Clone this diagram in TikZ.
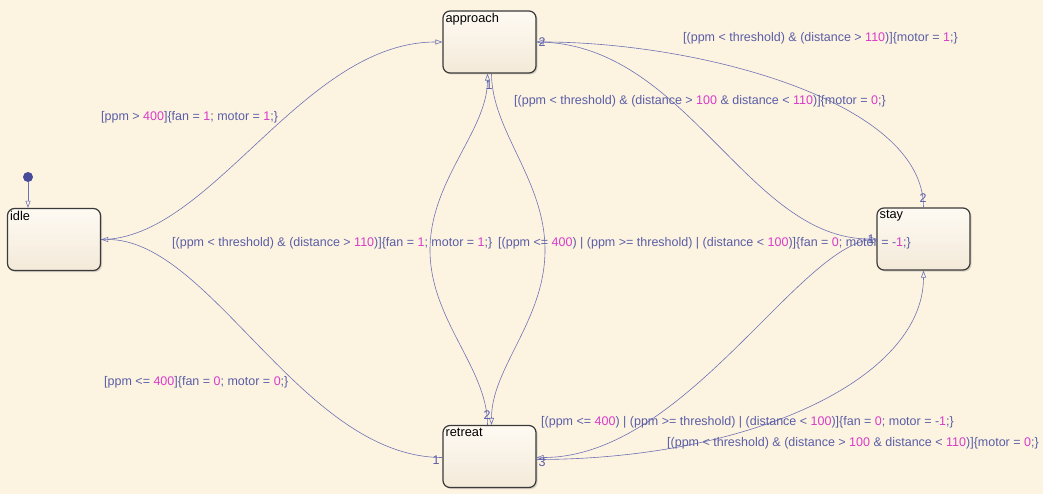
\documentclass[tikz,border=0pt]{standalone}
\usepackage{fontspec}
\setmainfont{Liberation Sans}
\usetikzlibrary{arrows.meta,shadows}

\definecolor{bgcol}{HTML}{FDF3E1}
\definecolor{linecol}{HTML}{6E72B4}
\definecolor{txtcol}{HTML}{5A5EA6}
\definecolor{numcol}{HTML}{D93BC8}
\definecolor{boxcol}{HTML}{3A3A3A}
\definecolor{dotcol}{HTML}{474B9A}

\newcommand{\nv}[1]{\textcolor{numcol}{#1}}

\begin{document}
\begin{tikzpicture}[x=1pt,y=-1pt,
  state/.style={rectangle,rounded corners=7pt,draw=boxcol,line width=1.2pt,
    minimum width=93pt,minimum height=62pt,top color=white!60!bgcol,bottom color=black!4!bgcol,
    drop shadow={shadow xshift=1.5pt,shadow yshift=-1.5pt,opacity=0.3}},
  statename/.style={anchor=north west,inner sep=3pt,font=\fontsize{12.8}{14}\selectfont},
  trans/.style={draw=linecol,line width=0.6pt,-{Triangle[open,length=7pt,width=5pt]}},
  guard/.style={anchor=west,inner sep=0pt,yshift=-1.5pt,text=txtcol,font=\fontsize{12.5}{14}\selectfont},
  exit/.style={inner sep=0pt,yshift=-1pt,text=txtcol,font=\fontsize{12.5}{14}\selectfont}]

  \useasboundingbox (0,0) rectangle (1043,494);
  \fill[bgcol] (0,0) rectangle (1043,494);

  % states
  \node[state,label={[statename]north west:idle}] (idle) at (54,239.5) {};
  \node[state,label={[statename]north west:approach}] (approach) at (489.5,42) {};
  \node[state,label={[statename]north west:stay}] (stay) at (923.5,239) {};
  \node[state,label={[statename]north west:retreat}] (retreat) at (489.5,456.5) {};

  \node[circle,fill=dotcol,inner sep=0pt,minimum size=10pt] (init) at (28,177) {};

  \coordinate (lensL) at (430,250);
  \coordinate (lensR) at (545,250);

  % transitions
  \draw[trans] (init) -- (init |- idle.north);
  \draw[trans] (idle.east) .. controls +(110,0) and +(-140,0) .. (approach.west);
  \draw[trans] ([yshift=-1pt]retreat.west) .. controls +(-140,0) and +(110,0) .. (idle.east);
  \draw[trans] ([xshift=-2pt]retreat.north) .. controls +(0,-57) and +(0,70) .. (lensL)
    .. controls +(0,-70) and +(0,57) .. ([xshift=-2pt]approach.south);
  \draw[trans] ([xshift=2pt]approach.south) .. controls +(0,57) and +(0,-70) .. (lensR)
    .. controls +(0,70) and +(0,-57) .. ([xshift=2pt]retreat.north);
  \draw[trans] (approach.east) .. controls +(150,0) and +(-130,0) .. (stay.west);
  \draw[trans] (stay.north) .. controls +(0,-107) and +(160,0) .. (approach.east);
  \draw[trans] (stay.west) .. controls +(-75,0) and +(150,0) .. ([yshift=-1pt]retreat.east);
  \draw[trans] ([yshift=-3pt]retreat.east) .. controls +(214,0) and +(0,108) .. (stay.south);

  % guards
  \node[guard] (g1) at (101,116) {[ppm > \nv{400}]\{fan = \nv{1}; motor = \nv{1};\}};
  \node[guard] (g2) at (172,242) {[(ppm < threshold) \& (distance > \nv{110})]\{fan = \nv{1}; motor = \nv{1};\}};
  \node[guard] (g3) at (498,242) {[(ppm <= \nv{400}) | (ppm >= threshold) | (distance < \nv{100})]\{fan = \nv{0}; motor = -\nv{1};\}};
  \node[guard] (g4) at (683,37) {[(ppm < threshold) \& (distance > \nv{110})]\{motor = \nv{1};\}};
  \node[guard] (g5) at (514,100) {[(ppm < threshold) \& (distance > \nv{100} \& distance < \nv{110})]\{motor = \nv{0};\}};
  \node[guard] (g6) at (104,381) {[ppm <= \nv{400}]\{fan = \nv{0}; motor = \nv{0};\}};
  \node[guard] (g7) at (541,421) {[(ppm <= \nv{400}) | (ppm >= threshold) | (distance < \nv{100})]\{fan = \nv{0}; motor = -\nv{1};\}};
  \node[guard] (g8) at (667,442) {[(ppm < threshold) \& (distance > \nv{100} \& distance < \nv{110})]\{motor = \nv{0};\}};

  % exit numbers
  \node[exit] (e1) at (542,41) {2};
  \node[exit] (e2) at (489,84) {1};
  \node[exit] (e3) at (923,197) {2};
  \node[exit] (e4) at (871,238) {1};
  \node[exit] (e5) at (487,414) {2};
  \node[exit] (e6) at (436,459) {1};
  \node[exit] (e7) at (542,461) {3};

\end{tikzpicture}
\end{document}
